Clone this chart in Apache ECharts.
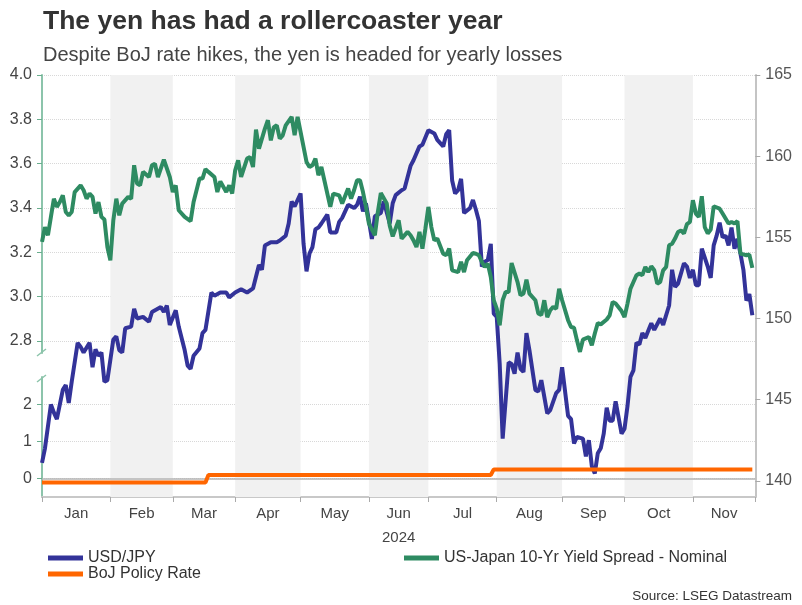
<!DOCTYPE html>
<html>
<head>
<meta charset="utf-8">
<script src="https://cdn.jsdelivr.net/npm/echarts@6/dist/echarts.min.js"></script>
<style>
html,body{margin:0;padding:0;background:#fff;}
#chart{width:802px;height:605px;}
</style>
</head>
<body>
<div id="chart"></div>
<script>
// x values are trading-day numbers (weekdays) counted from 1 Jan 2024 = 0
const monthLabels = ['Jan','Feb','Mar','Apr','May','Jun','Jul','Aug','Sep','Oct','Nov'];
const monthStartDay = [0,23,44,65,87,110,130,153,175,196,219,240];
const shadedMonths = [1,3,5,7,9];
const rightTicks = [140,145,150,155,160,165];
const upperTicks = [2.8,3.0,3.2,3.4,3.6,3.8,4.0];
const lowerTicks = [0,1,2];

const usdjpyDay = [0,1,3,4,5,7,8,9,10,12,13,14,16,17,18,19,20,21,22,24,25,26,27,28,30,31,32,34,36,37,40,41,42,43,45,46,48,49,50,51,53,54,55,57,58,60,62,63,65,67,69,71,73,74,75,77,79,80,82,83,84,85,87,88,89,90,91,92,93,94,96,97,99,100,101,103,105,106,107,108,109,111,112,114,115,117,118,119,121,122,124,125,127,128,130,132,133,135,136,137,138,139,140,141,142,144,145,146,147,148,149,150,151,152,153,154,155,157,158,159,160,161,162,163,164,166,167,168,170,171,173,174,175,177,178,179,180,182,183,184,185,186,187,188,189,190,191,192,193,195,196,197,198,199,200,201,202,203,205,206,208,209,211,212,213,214,216,217,218,219,220,221,222,224,225,226,227,228,229,230,231,232,233,234,235,236,237,238,239];
const usdjpy = [141.1,142.0,144.7,144.2,143.8,145.6,145.9,144.8,146.1,148.5,148.25,147.9,148.5,147.0,148.1,147.7,147.9,146.1,146.2,148.7,148.9,148.05,147.9,149.4,149.5,150.6,150.0,150.1,149.8,150.4,150.7,150.4,150.8,149.6,150.5,149.5,148.05,147.1,146.9,147.7,148.15,149.1,149.3,151.6,151.4,151.6,151.6,151.3,151.6,151.8,151.6,151.85,153.3,153.0,154.5,154.7,154.7,154.8,155.1,155.85,157.2,156.9,157.7,154.6,152.9,154.0,154.4,155.5,155.6,155.85,156.4,155.3,155.3,155.95,156.2,157.0,156.8,157.0,157.5,156.6,157.1,154.9,156.3,156.5,157.2,155.85,157.1,157.6,157.9,158.0,159.4,159.75,160.6,160.7,161.6,161.4,161.0,160.6,161.35,161.6,158.5,157.7,157.9,158.6,156.5,156.8,157.3,156.7,156.0,153.2,153.5,153.6,154.6,150.3,150.1,147.2,142.6,147.3,147.2,146.6,147.9,146.9,146.7,149.1,148.05,145.6,145.5,146.2,144.15,144.35,145.4,145.6,147.0,144.0,143.8,142.3,142.7,142.6,141.5,142.5,140.9,140.45,141.7,142.0,142.9,144.5,143.7,143.7,144.9,142.9,143.2,144.6,146.4,146.8,148.5,148.4,149.1,148.8,149.7,149.3,150.0,149.6,150.8,153.0,151.95,152.15,153.4,153.2,152.5,153.0,152.05,152.05,154.3,153.2,152.5,154.5,155.1,155.9,155.0,155.1,154.5,155.6,154.3,154.9,154.0,153.0,151.1,151.5,150.2,150.0];

const spreadDay = [0,1,2,3,4,5,6,7,8,9,10,11,13,14,15,16,17,18,19,20,21,22,23,24,25,26,27,29,30,31,32,33,34,36,37,38,39,41,43,44,45,46,48,50,51,53,54,55,56,58,59,60,62,63,64,65,66,67,69,70,71,72,73,75,76,77,78,79,80,81,82,84,85,86,87,89,90,91,92,93,94,95,97,98,100,101,103,104,105,106,107,108,109,110,112,113,114,116,117,118,120,121,123,124,125,126,127,128,129,130,131,132,133,135,136,137,138,140,141,142,143,145,146,147,148,149,150,151,152,153,154,155,156,157,158,160,161,162,163,164,166,167,168,169,170,171,172,173,174,175,177,178,179,180,181,182,184,185,186,187,188,190,191,192,193,195,196,197,198,200,201,202,203,204,205,206,207,208,209,210,211,212,213,214,215,216,217,218,219,220,221,222,223,224,225,226,228,229,231,232,233,234,235,237,238,239];
const spread = [3.247,3.314,3.277,3.36,3.442,3.405,3.427,3.457,3.382,3.367,3.382,3.472,3.502,3.48,3.442,3.465,3.45,3.375,3.427,3.36,3.348,3.224,3.164,3.345,3.442,3.367,3.42,3.45,3.442,3.593,3.51,3.502,3.563,3.54,3.593,3.6,3.54,3.618,3.54,3.472,3.502,3.39,3.36,3.341,3.427,3.533,3.533,3.575,3.563,3.54,3.472,3.52,3.472,3.502,3.465,3.57,3.615,3.54,3.623,3.63,3.585,3.754,3.668,3.758,3.796,3.705,3.765,3.773,3.713,3.728,3.773,3.811,3.728,3.811,3.743,3.608,3.585,3.593,3.623,3.548,3.585,3.525,3.405,3.465,3.457,3.42,3.488,3.442,3.48,3.525,3.525,3.472,3.405,3.33,3.277,3.382,3.468,3.42,3.32,3.272,3.345,3.262,3.292,3.277,3.254,3.224,3.292,3.217,3.307,3.405,3.314,3.254,3.262,3.194,3.187,3.217,3.119,3.111,3.157,3.111,3.164,3.197,3.194,3.187,3.157,3.134,3.149,3.089,2.984,2.946,2.871,2.984,3.021,3.021,3.152,3.066,3.006,3.014,3.077,3.014,2.984,2.924,2.917,2.984,2.908,2.939,2.954,2.946,3.036,2.984,2.894,2.863,2.86,2.803,2.751,2.806,2.818,2.781,2.834,2.881,2.875,2.897,2.916,2.976,2.969,2.935,2.908,2.969,3.036,3.097,3.104,3.097,3.134,3.111,3.137,3.119,3.059,3.066,3.119,3.134,3.232,3.239,3.262,3.292,3.299,3.285,3.327,3.337,3.435,3.375,3.36,3.453,3.314,3.285,3.303,3.408,3.397,3.375,3.33,3.337,3.33,3.341,3.194,3.187,3.19,3.13];

const bojDay = [0,55,56,151,152,239];
const boj = [-0.1,-0.1,0.1,0.1,0.25,0.25];

const monthMid = monthLabels.map((m,i)=> (monthStartDay[i]+monthStartDay[i+1])/2);
const pairs = (xs, ys) => xs.map((x,i)=>[x, ys[i]]);

const FONT = '"Liberation Sans", Arial, sans-serif';
const chart = echarts.init(document.getElementById('chart'), null, {renderer:'canvas'});

const gridL = 42, gridR = 46.7;
const option = {
  animation: false,
  backgroundColor: '#fff',
  textStyle: {fontFamily: FONT},
  title: [
    {text: 'The yen has had a rollercoaster year', left: 38, top: 3,
     textStyle: {fontFamily: FONT, fontSize: 26.5, fontWeight: 'bold', color: '#333'}},
    {text: 'Despite BoJ rate hikes, the yen is headed for yearly losses', left: 38, top: 40,
     textStyle: {fontFamily: FONT, fontSize: 20, fontWeight: 'normal', color: '#444'}}
  ],
  legend: [
    {left: 43, top: 545, orient: 'vertical', itemGap: 0, icon: 'rect', itemWidth: 35, itemHeight: 5,
     data: ['USD/JPY','BoJ Policy Rate'],
     textStyle: {fontFamily: FONT, fontSize: 16, color: '#333', lineHeight: 16}},
    {left: 399, top: 545, orient: 'horizontal', icon: 'rect', itemWidth: 35, itemHeight: 5,
     data: ['US-Japan 10-Yr Yield Spread - Nominal'],
     textStyle: {fontFamily: FONT, fontSize: 16, color: '#333', lineHeight: 16}}
  ],
  grid: [
    {left: gridL, right: gridR, top: 75, height: 422},
    {left: gridL, right: gridR, top: 75, height: 278},
    {left: gridL, right: gridR, top: 377, height: 120}
  ],
  xAxis: [
    {gridIndex: 0, type: 'value', min: 0, max: 240,
     axisLine: {show: true, onZero: false, lineStyle: {color: '#c8c8c8', width: 2}},
     axisTick: {show: true, customValues: monthStartDay, length: 5, lineStyle: {color: '#aaa', width: 1}},
     axisLabel: {customValues: monthMid, color: '#444', fontSize: 15, fontFamily: FONT, margin: 9,
       formatter: v => { let k = 0, best = 1e9; monthMid.forEach((m,i)=>{ if (Math.abs(m-v)<best){best=Math.abs(m-v);k=i;} }); return monthLabels[k]; }},
     splitLine: {show: false},
     name: '2024', nameLocation: 'middle', nameGap: 33,
     nameTextStyle: {color: '#444', fontSize: 15, fontFamily: FONT}},
    {gridIndex: 1, type: 'value', min: 0, max: 240, show: false, axisLine: {onZero: false}},
    {gridIndex: 2, type: 'value', min: 0, max: 240, show: false, axisLine: {onZero: false}}
  ],
  yAxis: [
    {gridIndex: 0, type: 'value', position: 'right', min: 139, max: 165,
     axisLine: {show: true, onZero: false, lineStyle: {color: '#c4c4c4', width: 2}},
     axisTick: {show: true, inside: false, customValues: rightTicks, length: 5, lineStyle: {color: '#aaa'}},
     axisLabel: {customValues: rightTicks, color: '#555', fontSize: 16, fontFamily: FONT, margin: 10},
     splitLine: {show: false}},
    {gridIndex: 1, type: 'value', position: 'left', min: 2.746, max: 4.0,
     axisLine: {show: true, onZero: false, lineStyle: {color: '#8cc4ab', width: 2}},
     axisTick: {show: true, inside: false, customValues: upperTicks, length: 5, lineStyle: {color: '#6aae8e'}},
     axisLabel: {customValues: upperTicks, color: '#444', fontSize: 16, fontFamily: FONT, margin: 10,
       formatter: v => v.toFixed(1)},
     splitLine: {show: true, lineStyle: {color: '#d8d8d8', type: 'dotted', width: 1}}},
    {gridIndex: 2, type: 'value', position: 'left', min: -0.492, max: 2.734,
     axisLine: {show: true, onZero: false, lineStyle: {color: '#8cc4ab', width: 2}},
     axisTick: {show: true, inside: false, customValues: lowerTicks, length: 5, lineStyle: {color: '#6aae8e'}},
     axisLabel: {customValues: lowerTicks, color: '#444', fontSize: 16, fontFamily: FONT, margin: 10,
       formatter: v => String(Math.round(v))},
     splitLine: {show: true, lineStyle: {color: '#d8d8d8', type: 'dotted', width: 1}}}
  ],
  series: [
    {name: 'bands', type: 'line', xAxisIndex: 0, yAxisIndex: 0, data: [], z: 1, silent: true,
     markArea: {silent: true, itemStyle: {color: '#f1f1f1'},
       data: shadedMonths.map(i => [{xAxis: monthStartDay[i]}, {xAxis: monthStartDay[i+1]}])}},
    {name: 'USD/JPY', type: 'line', xAxisIndex: 0, yAxisIndex: 0, data: pairs(usdjpyDay, usdjpy),
     showSymbol: false, symbol: 'none', color: '#333399', lineStyle: {width: 4, color: '#333399'}, z: 3},
    {name: 'US-Japan 10-Yr Yield Spread - Nominal', type: 'line', xAxisIndex: 1, yAxisIndex: 1,
     data: pairs(spreadDay, spread), showSymbol: false, symbol: 'none', color: '#2e8b62',
     lineStyle: {width: 4, color: '#2e8b62'}, z: 4},
    {name: 'BoJ Policy Rate', type: 'line', xAxisIndex: 2, yAxisIndex: 2, data: pairs(bojDay, boj),
     showSymbol: false, symbol: 'none', color: '#ff6600', lineStyle: {width: 4, color: '#ff6600'}, z: 5,
     markLine: {silent: true, symbol: 'none', label: {show: false},
       lineStyle: {color: '#b4b4b4', type: 'solid', width: 1.5}, data: [{yAxis: 0}], z: 2}}
  ],
  graphic: [
    {type: 'line', shape: {x1: 37, y1: 356, x2: 46, y2: 349}, style: {stroke: '#8cc4ab', lineWidth: 1.5}, z: 10},
    {type: 'line', shape: {x1: 37, y1: 382, x2: 46, y2: 375}, style: {stroke: '#8cc4ab', lineWidth: 1.5}, z: 10},
    {type: 'text', right: 10, top: 589, style: {text: 'Source: LSEG Datastream', fill: '#333',
      font: '13.5px "Liberation Sans", Arial, sans-serif'}}
  ]
};
chart.setOption(option);
</script>
</body>
</html>
